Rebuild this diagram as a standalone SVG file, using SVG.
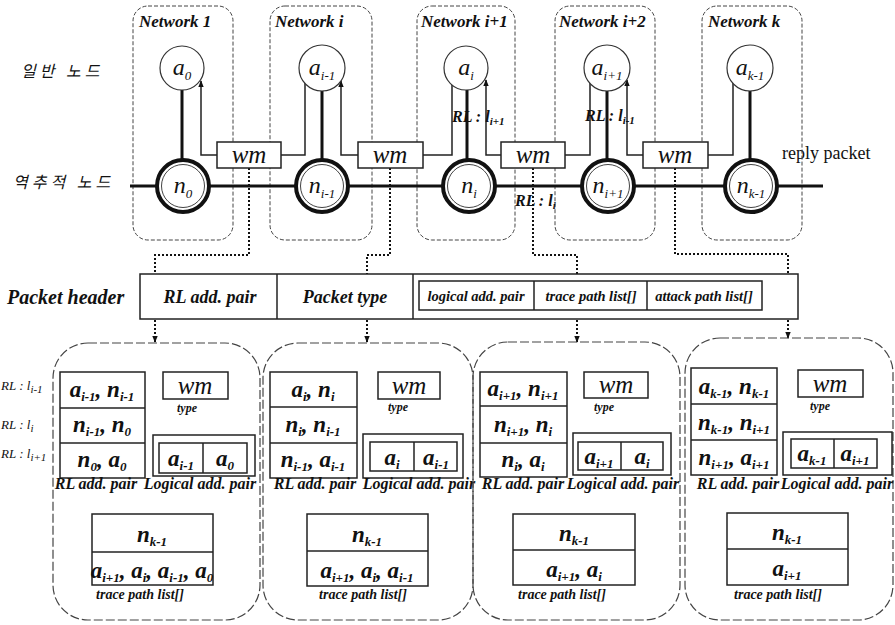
<svg xmlns="http://www.w3.org/2000/svg" width="895" height="625" viewBox="0 0 895 625">
<defs>
<style>
.net{fill:none;stroke:#444;stroke-width:1;stroke-dasharray:4 2}
.grp{fill:none;stroke:#444;stroke-width:1.2;stroke-dasharray:9 3}
.box{fill:#fff;stroke:#222;stroke-width:1.5}
.ln{fill:none;stroke:#222;stroke-width:1.5}
.thick{fill:none;stroke:#111;stroke-width:3}
.dot{fill:none;stroke:#111;stroke-width:2;stroke-dasharray:2 2}
.ac{fill:#fff;stroke:#333;stroke-width:1.2}
.no{fill:#fff;stroke:#111;stroke-width:4}
.ni{fill:none;stroke:#444;stroke-width:1}
text{font-family:"Liberation Serif","Times New Roman",serif;fill:#111}
.ko{font-family:"Noto Sans CJK KR","Noto Sans",sans-serif;font-size:16px;font-style:italic;letter-spacing:4px}
.nt{font-size:17px;font-weight:bold;font-style:italic}
.nl{font-size:24px;font-style:italic;text-anchor:middle}
.s{font-size:13px}
.wm{font-size:25px;font-style:italic;text-anchor:middle}
.rl{font-size:16px;font-weight:bold;font-style:italic}
.rs{font-size:11px}
.ph{font-size:20px;font-weight:bold;font-style:italic}
.hd{font-size:18px;font-weight:bold;font-style:italic;text-anchor:middle}
.hs{font-size:14.5px;font-weight:bold;font-style:italic;text-anchor:middle}
.m{font-size:23px;font-weight:bold;font-style:italic;text-anchor:middle}
.ms{font-size:13px}
.cap{font-size:16px;font-weight:bold;font-style:italic;text-anchor:middle}
.ty{font-size:12px;font-weight:bold;font-style:italic;text-anchor:middle}
.tp{font-size:14px;font-weight:bold;font-style:italic;text-anchor:middle}
.lrl{font-size:13px;font-style:italic}
.rp{font-size:18px}
</style>
<marker id="ah" viewBox="0 0 10 10" refX="9" refY="5" markerWidth="7" markerHeight="7" orient="auto" markerUnits="userSpaceOnUse"><path d="M0,1 L10,5 L0,9 z" fill="#111"/></marker>
</defs>
<rect width="895" height="625" fill="#fff"/>

<!-- side labels -->
<g id="labels">
<text class="ko" x="21" y="77">일반 노드</text>
<text class="ko" x="13" y="188">역추적 노드</text>
<text class="rp" x="782" y="159">reply packet</text>
<text class="lrl" x="1" y="390">RL : l<tspan class="rs" dy="3">i-1</tspan></text>
<text class="lrl" x="1" y="429">RL : l<tspan class="rs" dy="3">i</tspan></text>
<text class="lrl" x="1" y="458">RL : l<tspan class="rs" dy="3">i+1</tspan></text>
</g>

<!-- network frames -->
<g id="net1"><rect class="net" x="133" y="6" width="100" height="234" rx="15"/><text class="nt" x="139" y="27">Network 1</text></g>
<g id="neti"><rect class="net" x="270" y="6" width="102" height="234" rx="15"/><text class="nt" x="275" y="27">Network i</text></g>
<g id="neti1"><rect class="net" x="417" y="6" width="98" height="234" rx="15"/><text class="nt" x="421" y="27">Network i+1</text></g>
<g id="neti2"><rect class="net" x="555" y="6" width="100" height="234" rx="15"/><text class="nt" x="559" y="27">Network i+2</text></g>
<g id="netk"><rect class="net" x="702" y="6" width="100" height="234" rx="15"/><text class="nt" x="708" y="27">Network k</text></g>

<!-- connectors -->
<g id="connectors">
<line class="thick" x1="130" y1="186" x2="823" y2="186"/>
<line class="thick" x1="182" y1="90" x2="182" y2="160"/>
<line class="thick" x1="322" y1="90" x2="322" y2="160"/>
<line class="thick" x1="467" y1="90" x2="467" y2="160"/>
<line class="thick" x1="607" y1="90" x2="607" y2="160"/>
<line class="thick" x1="750" y1="90" x2="750" y2="160"/>
<path class="ln" d="M217,155 H201 V81" marker-end="url(#ah)"/>
<path class="ln" d="M281,155 H305 V82"/>
<path class="ln" d="M358,155 H341 V81" marker-end="url(#ah)"/>
<path class="ln" d="M423,155 H452 V84"/>
<path class="ln" d="M501,155 H486 V80" marker-end="url(#ah)"/>
<path class="ln" d="M565,155 H590 V82"/>
<path class="ln" d="M643,155 H627 V80" marker-end="url(#ah)"/>
<path class="ln" d="M708,155 H733 V82"/>
<path class="dot" d="M249,168 V255 H155 V274"/>
<path class="dot" d="M390,168 V255 H367 V274"/>
<path class="dot" d="M533,168 V255 H577 V274"/>
<path class="dot" d="M675,168 V254 H788 V274"/>
<path class="dot" d="M155,320 V342" marker-end="url(#ah)"/>
<path class="dot" d="M367,320 V342" marker-end="url(#ah)"/>
<path class="dot" d="M577,320 V342" marker-end="url(#ah)"/>
<path class="dot" d="M788,320 V338" marker-end="url(#ah)"/>
<text class="rl" x="452" y="122">RL : l<tspan class="rs" dy="3">i+1</tspan></text>
<text class="rl" x="585" y="121">RL : l<tspan class="rs" dy="3">i-1</tspan></text>
<text class="rl" x="515" y="206">RL : l<tspan class="rs" dy="3">i</tspan></text>
</g>

<!-- general nodes -->
<g id="a0"><circle class="ac" cx="182" cy="68" r="22"/><text class="nl" x="182" y="75">a<tspan class="s" dy="5">0</tspan></text></g>
<g id="ai-1"><circle class="ac" cx="322" cy="68" r="23"/><text class="nl" x="322" y="75">a<tspan class="s" dy="5">i-1</tspan></text></g>
<g id="ai"><circle class="ac" cx="466" cy="68" r="22"/><text class="nl" x="466" y="75">a<tspan class="s" dy="5">i</tspan></text></g>
<g id="ai+1"><circle class="ac" cx="607" cy="68" r="23"/><text class="nl" x="607" y="75">a<tspan class="s" dy="5">i+1</tspan></text></g>
<g id="ak-1"><circle class="ac" cx="750" cy="68" r="23"/><text class="nl" x="750" y="75">a<tspan class="s" dy="5">k-1</tspan></text></g>

<!-- traceback nodes -->
<g id="n0"><circle class="no" cx="183" cy="186" r="26"/><circle class="ni" cx="183" cy="186" r="21.5"/><text class="nl" x="183" y="193">n<tspan class="s" dy="5">0</tspan></text></g>
<g id="ni-1"><circle class="no" cx="322" cy="186" r="26"/><circle class="ni" cx="322" cy="186" r="21.5"/><text class="nl" x="322" y="193">n<tspan class="s" dy="5">i-1</tspan></text></g>
<g id="ni"><circle class="no" cx="469" cy="186" r="26"/><circle class="ni" cx="469" cy="186" r="21.5"/><text class="nl" x="469" y="193">n<tspan class="s" dy="5">i</tspan></text></g>
<g id="ni+1"><circle class="no" cx="608" cy="186" r="26"/><circle class="ni" cx="608" cy="186" r="21.5"/><text class="nl" x="608" y="193">n<tspan class="s" dy="5">i+1</tspan></text></g>
<g id="nk-1"><circle class="no" cx="751" cy="186" r="26"/><circle class="ni" cx="751" cy="186" r="21.5"/><text class="nl" x="751" y="193">n<tspan class="s" dy="5">k-1</tspan></text></g>

<!-- wm boxes -->
<g id="wm1"><rect class="box" x="217" y="142" width="64" height="26"/><text class="wm" x="249" y="163">wm</text></g>
<g id="wm2"><rect class="box" x="358" y="142" width="65" height="26"/><text class="wm" x="390" y="163">wm</text></g>
<g id="wm3"><rect class="box" x="501" y="142" width="64" height="26"/><text class="wm" x="533" y="163">wm</text></g>
<g id="wm4"><rect class="box" x="643" y="142" width="65" height="26"/><text class="wm" x="675" y="163">wm</text></g>

<!-- packet header -->
<g id="header">
<text class="ph" x="7" y="304">Packet header</text>
<rect class="box" x="140" y="274" width="658" height="45"/>
<line class="ln" x1="277" y1="274" x2="277" y2="319"/>
<line class="ln" x1="413" y1="274" x2="413" y2="319"/>
<text class="hd" x="210" y="303">RL add. pair</text>
<text class="hd" x="345" y="303">Packet type</text>
<rect class="box" x="419" y="281" width="343" height="29"/>
<line class="ln" x1="534" y1="281" x2="534" y2="310"/>
<line class="ln" x1="647" y1="281" x2="647" y2="310"/>
<text class="hs" x="476" y="301">logical add. pair</text>
<text class="hs" x="591" y="301">trace path list[]</text>
<text class="hs" x="704" y="301">attack path list[]</text>
</g>

<!-- bottom group 1 -->
<g id="grp1">
<rect class="grp" x="53" y="343" width="207" height="277" rx="35"/>
<rect class="box" x="60" y="372" width="85" height="106"/>
<line class="ln" x1="60" y1="408" x2="145" y2="408"/>
<line class="ln" x1="60" y1="443" x2="145" y2="443"/>
<text class="m" x="102" y="397">a<tspan class="ms" dy="4">i-1</tspan><tspan dy="-4">, n</tspan><tspan class="ms" dy="4">i-1</tspan></text>
<text class="m" x="102" y="432">n<tspan class="ms" dy="4">i-1</tspan><tspan dy="-4">, n</tspan><tspan class="ms" dy="4">0</tspan></text>
<text class="m" x="102" y="467">n<tspan class="ms" dy="4">0</tspan><tspan dy="-4">, a</tspan><tspan class="ms" dy="4">0</tspan></text>
<rect class="box" x="163" y="372" width="65" height="27"/>
<text class="wm" x="195" y="394">wm</text>
<text class="ty" x="187" y="412">type</text>
<rect class="box" x="153" y="435" width="102" height="41"/>
<rect class="box" x="159" y="443" width="88" height="30"/>
<line class="ln" x1="203" y1="443" x2="203" y2="473"/>
<text class="m" x="181" y="466">a<tspan class="ms" dy="4">i-1</tspan></text>
<text class="m" x="225" y="466">a<tspan class="ms" dy="4">0</tspan></text>
<text class="cap" x="96" y="489">RL add. pair</text>
<text class="cap" x="200" y="489">Logical add. pair</text>
<rect class="box" x="92" y="514" width="121" height="71"/>
<line class="ln" x1="92" y1="552" x2="213" y2="552"/>
<text class="m" x="152" y="542">n<tspan class="ms" dy="4">k-1</tspan></text>
<text class="m" x="152" y="578">a<tspan class="ms" dy="4">i+1</tspan><tspan dy="-4">, a</tspan><tspan class="ms" dy="4">i</tspan><tspan dy="-4">, a</tspan><tspan class="ms" dy="4">i-1</tspan><tspan dy="-4">, a</tspan><tspan class="ms" dy="4">0</tspan></text>
<text class="tp" x="140" y="599">trace path list[]</text>
</g>

<!-- bottom group 2 -->
<g id="grp2">
<rect class="grp" x="263" y="343" width="210" height="277" rx="35"/>
<rect class="box" x="270" y="372" width="87" height="106"/>
<line class="ln" x1="270" y1="407" x2="357" y2="407"/>
<line class="ln" x1="270" y1="443" x2="357" y2="443"/>
<text class="m" x="313" y="397">a<tspan class="ms" dy="4">i</tspan><tspan dy="-4">, n</tspan><tspan class="ms" dy="4">i</tspan></text>
<text class="m" x="313" y="432">n<tspan class="ms" dy="4">i</tspan><tspan dy="-4">, n</tspan><tspan class="ms" dy="4">i-1</tspan></text>
<text class="m" x="313" y="467">n<tspan class="ms" dy="4">i-1</tspan><tspan dy="-4">, a</tspan><tspan class="ms" dy="4">i-1</tspan></text>
<rect class="box" x="378" y="372" width="62" height="27"/>
<text class="wm" x="409" y="394">wm</text>
<text class="ty" x="398" y="411">type</text>
<rect class="box" x="363" y="434" width="100" height="44"/>
<rect class="box" x="370" y="442" width="87" height="29"/>
<line class="ln" x1="414" y1="442" x2="414" y2="471"/>
<text class="m" x="392" y="465">a<tspan class="ms" dy="4">i</tspan></text>
<text class="m" x="436" y="465">a<tspan class="ms" dy="4">i-1</tspan></text>
<text class="cap" x="315" y="489">RL add. pair</text>
<text class="cap" x="419" y="489">Logical add. pair</text>
<rect class="box" x="307" y="514" width="121" height="72"/>
<line class="ln" x1="307" y1="551" x2="428" y2="551"/>
<text class="m" x="367" y="542">n<tspan class="ms" dy="4">k-1</tspan></text>
<text class="m" x="367" y="578">a<tspan class="ms" dy="4">i+1</tspan><tspan dy="-4">, a</tspan><tspan class="ms" dy="4">i</tspan><tspan dy="-4">, a</tspan><tspan class="ms" dy="4">i-1</tspan></text>
<text class="tp" x="363" y="599">trace path list[]</text>
</g>

<!-- bottom group 3 -->
<g id="grp3">
<rect class="grp" x="473" y="342" width="207" height="278" rx="35"/>
<rect class="box" x="480" y="372" width="87" height="105"/>
<line class="ln" x1="480" y1="406" x2="567" y2="406"/>
<line class="ln" x1="480" y1="443" x2="567" y2="443"/>
<text class="m" x="523" y="396">a<tspan class="ms" dy="4">i+1</tspan><tspan dy="-4">, n</tspan><tspan class="ms" dy="4">i+1</tspan></text>
<text class="m" x="523" y="432">n<tspan class="ms" dy="4">i+1</tspan><tspan dy="-4">, n</tspan><tspan class="ms" dy="4">i</tspan></text>
<text class="m" x="523" y="467">n<tspan class="ms" dy="4">i</tspan><tspan dy="-4">, a</tspan><tspan class="ms" dy="4">i</tspan></text>
<rect class="box" x="584" y="372" width="64" height="26"/>
<text class="wm" x="616" y="393">wm</text>
<text class="ty" x="604" y="411">type</text>
<rect class="box" x="573" y="433" width="98" height="42"/>
<rect class="box" x="578" y="442" width="85" height="28"/>
<line class="ln" x1="621" y1="442" x2="621" y2="470"/>
<text class="m" x="599" y="464">a<tspan class="ms" dy="4">i+1</tspan></text>
<text class="m" x="642" y="464">a<tspan class="ms" dy="4">i</tspan></text>
<text class="cap" x="523" y="489">RL add. pair</text>
<text class="cap" x="623" y="489">Logical add. pair</text>
<rect class="box" x="513" y="514" width="122" height="71"/>
<line class="ln" x1="513" y1="550" x2="635" y2="550"/>
<text class="m" x="574" y="541">n<tspan class="ms" dy="4">k-1</tspan></text>
<text class="m" x="574" y="577">a<tspan class="ms" dy="4">i+1</tspan><tspan dy="-4">, a</tspan><tspan class="ms" dy="4">i</tspan></text>
<text class="tp" x="562" y="599">trace path list[]</text>
</g>

<!-- bottom group 4 -->
<g id="grp4">
<rect class="grp" x="685" y="338" width="208" height="282" rx="35"/>
<rect class="box" x="691" y="368" width="86" height="107"/>
<line class="ln" x1="691" y1="404" x2="777" y2="404"/>
<line class="ln" x1="691" y1="440" x2="777" y2="440"/>
<text class="m" x="734" y="394">a<tspan class="ms" dy="4">k-1</tspan><tspan dy="-4">, n</tspan><tspan class="ms" dy="4">k-1</tspan></text>
<text class="m" x="734" y="430">n<tspan class="ms" dy="4">k-1</tspan><tspan dy="-4">, n</tspan><tspan class="ms" dy="4">i+1</tspan></text>
<text class="m" x="734" y="465">n<tspan class="ms" dy="4">i+1</tspan><tspan dy="-4">, a</tspan><tspan class="ms" dy="4">i+1</tspan></text>
<rect class="box" x="798" y="370" width="65" height="27"/>
<text class="wm" x="830" y="392">wm</text>
<text class="ty" x="820" y="410">type</text>
<rect class="box" x="783" y="432" width="109" height="43"/>
<rect class="box" x="791" y="439" width="86" height="29"/>
<line class="ln" x1="834" y1="439" x2="834" y2="468"/>
<text class="m" x="812" y="461">a<tspan class="ms" dy="4">k-1</tspan></text>
<text class="m" x="855" y="461">a<tspan class="ms" dy="4">i+1</tspan></text>
<text class="cap" x="738" y="489">RL add. pair</text>
<text class="cap" x="837" y="489">Logical add. pair</text>
<rect class="box" x="727" y="513" width="121" height="72"/>
<line class="ln" x1="727" y1="549" x2="848" y2="549"/>
<text class="m" x="787" y="540">n<tspan class="ms" dy="4">k-1</tspan></text>
<text class="m" x="787" y="576">a<tspan class="ms" dy="4">i+1</tspan></text>
<text class="tp" x="778" y="599">trace path list[]</text>
</g>
</svg>
